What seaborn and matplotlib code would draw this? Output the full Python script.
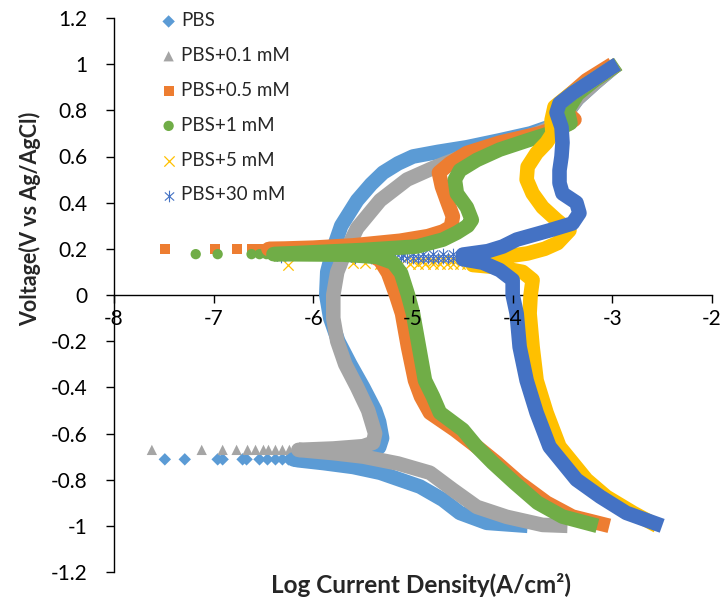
import numpy as np
import pandas as pd
import matplotlib
matplotlib.use("Agg")
import matplotlib.pyplot as plt
from matplotlib.path import Path
import seaborn as sns

sns.set_style("white")
plt.rcParams['font.family'] = ['Lato', 'DejaVu Sans']
plt.rcParams['axes.unicode_minus'] = False

# ---------------- data (log current density vs potential) ----------------
labels = ["PBS", "PBS+0.1 mM", "PBS+0.5 mM", "PBS+1 mM", "PBS+5 mM", "PBS+30 mM"]
colors = ["#5B9BD5", "#A5A5A5", "#ED7D31", "#70AD47", "#FFC000", "#4472C4"]

# PBS
pbs_V = [-1.0, -0.987, -0.944, -0.887, -0.83, -0.77, -0.745, -0.728, -0.716, -0.712,
         -0.705, -0.695, -0.68, -0.66, -0.62, -0.55, -0.5, -0.4, -0.3, -0.2, -0.1, 0.0,
         0.1, 0.2, 0.3, 0.41, 0.48, 0.53, 0.57, 0.60, 0.62, 0.64, 0.67, 0.70, 0.73,
         0.78, 0.85, 0.92, 1.0]
pbs_I = [-3.85, -4.26, -4.53, -4.7, -4.93, -5.33, -5.6, -5.9, -6.15, -6.2,
         -5.9, -5.6, -5.42, -5.34, -5.31, -5.34, -5.38, -5.5, -5.63, -5.75, -5.83, -5.87,
         -5.86, -5.8, -5.72, -5.56, -5.42, -5.3, -5.15, -5.0, -4.75, -4.46, -4.13, -3.82, -3.62,
         -3.47, -3.35, -3.17, -2.95]
pbs_tail_I = [-7.49, -7.29, -6.96, -6.91, -6.71, -6.67, -6.54, -6.46, -6.38, -6.31, -6.25, -6.2]
pbs_tail_V = [-0.712, -0.712, -0.712, -0.712, -0.712, -0.712, -0.712, -0.712, -0.712, -0.712, -0.712, -0.712]

# PBS+0.1 mM
c01_V = [-1.0, -0.996, -0.961, -0.918, -0.844, -0.77, -0.73, -0.70, -0.685, -0.675, -0.671,
         -0.665, -0.655, -0.64, -0.6, -0.5, -0.4, -0.3, -0.2, -0.1, 0.0, 0.1, 0.165,
         0.29, 0.41, 0.5, 0.55, 0.6, 0.65, 0.70, 0.73, 0.78, 0.85, 0.92, 1.0]
c01_I = [-3.45, -3.7, -4.06, -4.36, -4.6, -4.83, -5.15, -5.5, -5.8, -6.05, -6.15,
         -5.8, -5.5, -5.4, -5.38, -5.45, -5.56, -5.68, -5.76, -5.8, -5.8, -5.76, -5.7,
         -5.56, -5.33, -5.06, -4.8, -4.5, -4.1, -3.75, -3.6, -3.47, -3.35, -3.17, -2.95]
c01_tail_I = [-7.62, -7.12, -6.91, -6.77, -6.66, -6.58, -6.5, -6.45, -6.38, -6.31, -6.24, -6.18, -6.12]
c01_tail_V = [-0.671, -0.671, -0.671, -0.671, -0.671, -0.671, -0.671, -0.671, -0.671, -0.671, -0.671, -0.671, -0.671]

# PBS+0.5 mM
c05_V = [-1.0, -0.96, -0.9, -0.814, -0.727, -0.657, -0.584, -0.51, -0.44, -0.37, -0.225, -0.08,
         0.0, 0.095, 0.15, 0.18, 0.195, 0.199, 0.205, 0.215, 0.235, 0.255, 0.275, 0.295,
         0.34, 0.41, 0.47, 0.53, 0.57, 0.615, 0.66, 0.70, 0.74, 0.76, 0.80, 0.84, 0.93, 1.0]
c05_I = [-3.03, -3.4, -3.66, -3.93, -4.16, -4.36, -4.58, -4.83, -4.92, -4.98, -5.05, -5.11,
         -5.17, -5.25, -5.33, -5.45, -5.8, -6.45, -6.0, -5.6, -5.13, -4.85, -4.7, -4.62,
         -4.6, -4.66, -4.71, -4.74, -4.63, -4.46, -4.13, -3.73, -3.45, -3.38, -3.48, -3.5, -3.26, -3.0]
c05_tail_I = [-7.49, -6.99, -6.77, -6.62, -6.55, -6.48]
c05_tail_V = [0.199, 0.199, 0.199, 0.199, 0.199, 0.199]

# PBS+1 mM
c1_V = [-1.0, -0.96, -0.9, -0.814, -0.727, -0.657, -0.584, -0.51, -0.44, -0.37, -0.225, -0.08,
        0.0, 0.095, 0.14, 0.165, 0.175, 0.177, 0.185, 0.195, 0.21, 0.24, 0.27, 0.3, 0.325,
        0.38, 0.44, 0.50, 0.54, 0.585, 0.63, 0.67, 0.70, 0.745, 0.80, 0.87, 0.93, 1.0]
c1_I = [-3.15, -3.5, -3.75, -3.98, -4.2, -4.36, -4.5, -4.73, -4.8, -4.88, -4.94, -5.0,
        -5.05, -5.12, -5.2, -5.36, -5.7, -6.4, -6.0, -5.5, -4.96, -4.7, -4.56, -4.45, -4.41,
        -4.46, -4.56, -4.58, -4.53, -4.36, -4.13, -3.85, -3.63, -3.42, -3.45, -3.35, -3.18, -2.94]
c1_tail_I = [-7.18, -6.96, -6.62, -6.54, -6.47]
c1_tail_V = [0.177, 0.177, 0.177, 0.177, 0.177]

# PBS+5 mM
c5_V = [-1.0, -0.944, -0.874, -0.80, -0.657, -0.51, -0.37, -0.225, -0.08, 0.0, 0.065, 0.1,
        0.12, 0.13, 0.15, 0.165, 0.18, 0.20, 0.225, 0.28, 0.325, 0.38, 0.44, 0.5,
        0.555, 0.615, 0.66, 0.70, 0.757, 0.815, 0.87, 0.93, 1.0]
c5_I = [-2.55, -2.79, -3.06, -3.26, -3.53, -3.66, -3.76, -3.8, -3.83, -3.82, -3.8, -3.9,
        -4.15, -4.4, -4.4, -4.1, -3.85, -3.68, -3.55, -3.43, -3.56, -3.7, -3.8, -3.86,
        -3.85, -3.76, -3.66, -3.6, -3.61, -3.58, -3.42, -3.2, -2.95]
c5_tail_I = [-6.25, -5.6, -5.48, -5.33, -5.22, -5.12, -5.03, -4.95, -4.88, -4.8, -4.73, -4.66,
             -4.6, -4.53, -4.46, -5.0, -4.9, -4.8, -4.7, -4.6, -4.5, -4.4, -4.3, -4.2, -4.1]
c5_tail_V = [0.13, 0.138, 0.138, 0.136, 0.136, 0.136, 0.135, 0.135, 0.135, 0.135, 0.135, 0.135,
             0.135, 0.135, 0.135, 0.148, 0.148, 0.148, 0.15, 0.15, 0.15, 0.152, 0.152, 0.155, 0.155]

# PBS+30 mM
c30_V = [-1.0, -0.944, -0.874, -0.80, -0.657, -0.51, -0.37, -0.225, -0.08, 0.0, 0.065, 0.108,
         0.14, 0.155, 0.175, 0.19, 0.21, 0.24, 0.28, 0.31, 0.355, 0.40, 0.44, 0.485,
         0.54, 0.60, 0.66, 0.727, 0.79, 0.83, 0.874, 0.93, 0.987, 1.0]
c30_I = [-2.5, -2.86, -3.12, -3.36, -3.63, -3.76, -3.86, -3.93, -3.96, -4.0, -4.0, -4.13,
         -4.3, -4.5, -4.5, -4.25, -4.1, -3.96, -3.63, -3.4, -3.33, -3.36, -3.5, -3.53,
         -3.53, -3.51, -3.5, -3.51, -3.56, -3.53, -3.4, -3.2, -3.0, -2.95]
c30_tail_I = [-6.32, -5.73, -5.58, -5.42, -5.33, -5.25, -5.18, -5.12, -5.06, -5.0, -4.95, -4.9,
              -4.85, -4.8, -4.75, -4.7, -4.65, -4.6, -5.3, -5.2, -5.1, -5.0, -4.9, -4.8, -4.7,
              -4.6, -4.5, -4.4, -4.3]
c30_tail_V = [0.165, 0.162, 0.162, 0.162, 0.162, 0.162, 0.162, 0.162, 0.162, 0.162, 0.162, 0.162,
              0.162, 0.162, 0.162, 0.162, 0.162, 0.162, 0.175, 0.175, 0.175, 0.176, 0.176, 0.177,
              0.177, 0.178, 0.178, 0.18, 0.18]

x_ticks = [-8, -7, -6, -5, -4, -3, -2]
y_ticks = [-1.2, -1.0, -0.8, -0.6, -0.4, -0.2, 0.0, 0.2, 0.4, 0.6, 0.8, 1.0, 1.2]

# ---------------- figure ----------------
fig = plt.figure(figsize=(7.28, 6.12), dpi=100)
ax = fig.add_axes([114/728, 1-572/612, (712-114)/728, (572-18)/612])

star = Path([(0, -1), (0, 1), (-0.8, -0.7), (0.8, 0.7), (-0.8, 0.7), (0.8, -0.7)],
            [Path.MOVETO, Path.LINETO, Path.MOVETO, Path.LINETO, Path.MOVETO, Path.LINETO])

series = [
    (pbs_I, pbs_V, pbs_tail_I, pbs_tail_V, "D", 40),
    (c01_I, c01_V, c01_tail_I, c01_tail_V, "^", 55),
    (c05_I, c05_V, c05_tail_I, c05_tail_V, "s", 50),
    (c1_I, c1_V, c1_tail_I, c1_tail_V, "o", 55),
    (c5_I, c5_V, c5_tail_I, c5_tail_V, "x", 55),
    (c30_I, c30_V, c30_tail_I, c30_tail_V, star, 70),
]

for (xi, vi, txi, tvi, mk, sz), lab, col in zip(series, labels, colors):
    df = pd.DataFrame({"logI": xi, "V": vi})
    sns.lineplot(data=df, x="logI", y="V", sort=False, estimator=None, ax=ax,
                 color=col, lw=10.5, solid_capstyle="butt", solid_joinstyle="round")
    tdf = pd.DataFrame({"logI": txi, "V": tvi})
    if mk == "x":
        sns.scatterplot(data=tdf, x="logI", y="V", ax=ax, marker="x", color=col,
                        s=sz, linewidth=0.9, label=lab)
    elif mk is star:
        sns.scatterplot(data=tdf, x="logI", y="V", ax=ax, marker=star, color=col,
                        edgecolor=col, s=sz, linewidth=0.8, label=lab)
    else:
        sns.scatterplot(data=tdf, x="logI", y="V", ax=ax, marker=mk, color=col,
                        edgecolor="none", s=sz, label=lab)

ax.set_xlim(-8, -2)
ax.set_ylim(-1.2, 1.2)
ax.set_xticks(x_ticks)
ax.set_yticks(y_ticks)
ax.set_xticklabels([f"{t:g}" for t in x_ticks])
ax.set_yticklabels([f"{round(t, 1):g}" for t in y_ticks])
ax.spines["top"].set_visible(False)
ax.spines["right"].set_visible(False)
ax.spines["bottom"].set_position(("data", 0))
for s in ("left", "bottom"):
    ax.spines[s].set_color("black")
    ax.spines[s].set_linewidth(1.0)
    ax.spines[s].set_zorder(1.5)
ax.set_axisbelow(False)
ax.xaxis.set_zorder(3)
ax.tick_params(axis="both", direction="out", length=6, width=1, color="black",
               labelsize=15, labelcolor="black", left=True, bottom=True)
ax.tick_params(axis="y", pad=13)
ax.tick_params(axis="x", pad=4)
ax.set_xlabel("")
ax.set_ylabel("")

fig.text(30/728, 1-219/612, "Voltage(V vs Ag/AgCl)", rotation=90, ha="center", va="center",
         fontsize=15.5, fontweight="bold")
fig.text(421/728, 1-585/612, "Log Current Density(A/cm²)", ha="center", va="center",
         fontsize=17.5, fontweight="bold")

leg = ax.legend(loc="upper left", bbox_to_anchor=(148/728, 1-3/612), bbox_transform=fig.transFigure,
                frameon=False, fontsize=13.5, handletextpad=0.05, labelspacing=0.95,
                borderpad=0, handlelength=1.2, markerscale=1.0)

fig.savefig("out.png", dpi=100, facecolor="white")
